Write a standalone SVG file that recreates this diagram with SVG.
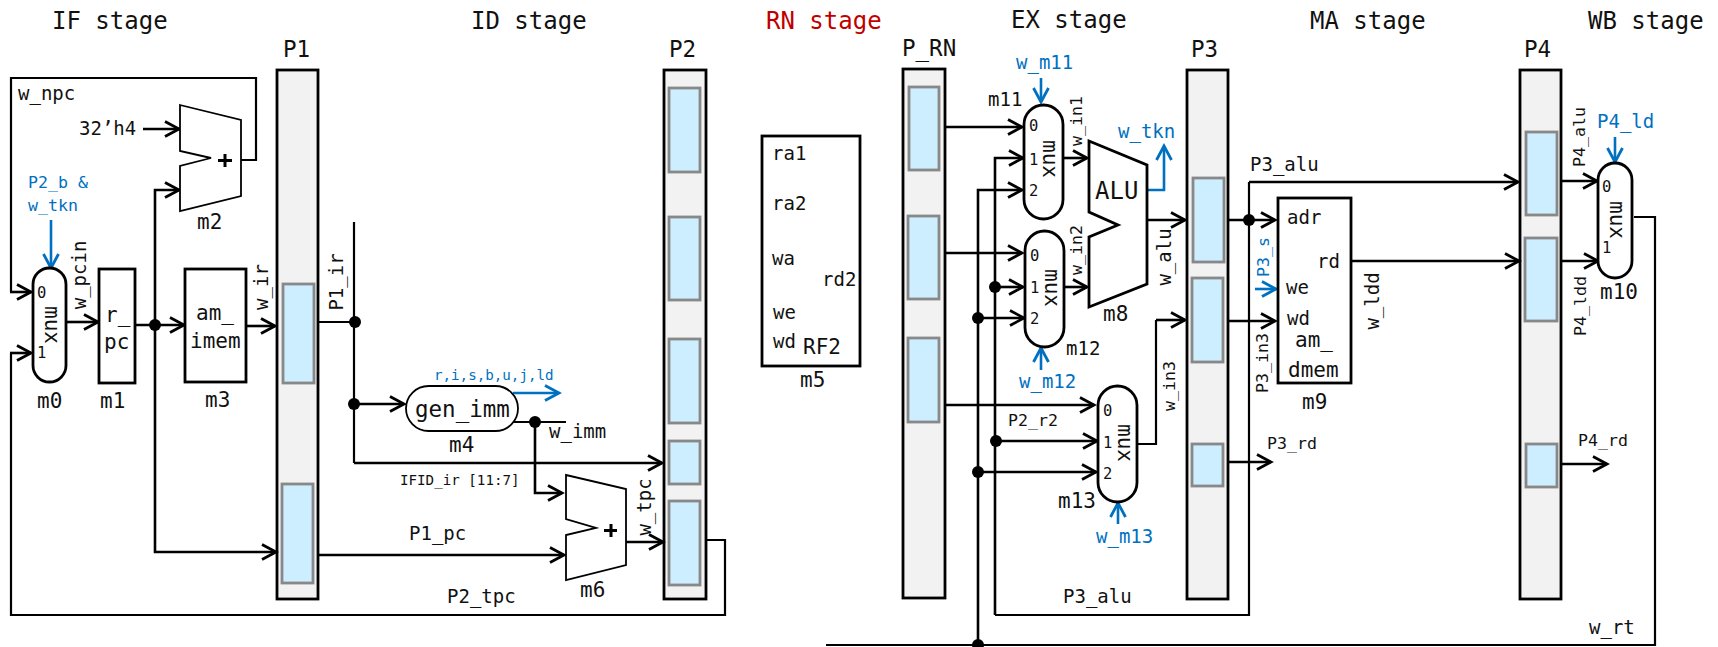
<svg xmlns="http://www.w3.org/2000/svg" width="1718" height="647" viewBox="0 0 1718 647">
<style>
text{font-family:"DejaVu Sans Mono","Liberation Mono",monospace;fill:#111}
.t24{font-size:24px}.t22{font-size:22.500px}.t21{font-size:21px}.t19{font-size:19px}.t17{font-size:16.6px}.t14{font-size:14.2px}.t15{font-size:15.500px}
text.b{fill:#0070c0}text.r{fill:#c00000}
.m{text-anchor:middle}
.bar{fill:#f2f2f2;stroke:#000;stroke-width:2.800}
.reg{fill:#cceeff;stroke:#888;stroke-width:2.800}
.blk{fill:#fff;stroke:#000;stroke-width:2.800}
.thin{fill:#fff;stroke:#000;stroke-width:1.800}
.c{fill:none;stroke:#000;stroke-width:2.200}
.a{fill:none;stroke:#000;stroke-width:2.600;marker-end:url(#ah)}
.ab{fill:none;stroke:#0070c0;stroke-width:2.600;marker-end:url(#ahb)}
.d{fill:#000}
</style>
<defs>
<marker id="ah" markerUnits="userSpaceOnUse" markerWidth="17" markerHeight="18" refX="15" refY="8" orient="auto" overflow="visible"><path d="M1,0.500 L15,8 L1,15.500" fill="none" stroke="#000" stroke-width="2.800"/></marker>
<marker id="ahb" markerUnits="userSpaceOnUse" markerWidth="17" markerHeight="18" refX="15" refY="8" orient="auto" overflow="visible"><path d="M1,0.500 L15,8 L1,15.500" fill="none" stroke="#0070c0" stroke-width="2.800"/></marker>
</defs>

<g id="stages">
<text class="t24" x="52" y="29">IF stage</text>
<text class="t24" x="471" y="29">ID stage</text>
<text class="t24 r" x="766" y="29">RN stage</text>
<text class="t24" x="1011" y="28">EX stage</text>
<text class="t24" x="1310" y="29">MA stage</text>
<text class="t24" x="1588" y="29">WB stage</text>
</g>

<g id="P1"><text class="t22" x="283" y="57">P1</text><rect class="bar" x="277" y="70" width="41" height="529"/><rect class="reg" x="283" y="284" width="31" height="99"/><rect class="reg" x="282" y="484" width="31" height="99"/></g>
<g id="P2"><text class="t22" x="669" y="57">P2</text><rect class="bar" x="664" y="70" width="42" height="529"/><rect class="reg" x="669" y="88" width="31" height="84"/><rect class="reg" x="669" y="217" width="31" height="83"/><rect class="reg" x="669" y="339" width="31" height="84"/><rect class="reg" x="669" y="441" width="31" height="43"/><rect class="reg" x="669" y="501" width="31" height="84"/></g>
<g id="P_RN"><text class="t22" x="902" y="56">P_RN</text><rect class="bar" x="903" y="69" width="42" height="529"/><rect class="reg" x="909" y="87" width="30" height="83"/><rect class="reg" x="908" y="216" width="31" height="83"/><rect class="reg" x="908" y="338" width="31" height="84"/></g>
<g id="P3"><text class="t22" x="1191" y="57">P3</text><rect class="bar" x="1187" y="70" width="41" height="529"/><rect class="reg" x="1193" y="178" width="31" height="84"/><rect class="reg" x="1192" y="278" width="31" height="84"/><rect class="reg" x="1192" y="444" width="31" height="42"/></g>
<g id="P4"><text class="t22" x="1524" y="57">P4</text><rect class="bar" x="1520" y="70" width="41" height="529"/><rect class="reg" x="1526" y="132" width="31" height="83"/><rect class="reg" x="1525" y="238" width="32" height="83"/><rect class="reg" x="1526" y="444" width="31" height="43"/></g>

<g id="connectors">
<path class="c" d="M241,160H256V78H11V292"/>
<path class="a" d="M10,292H31"/>
<path class="a" d="M143,129H179"/>
<path class="a" d="M155,325V190H179"/>
<path class="a" d="M155,325V552H276"/>
<path class="a" d="M66,322H98"/>
<path class="a" d="M135,325H184"/>
<path class="a" d="M246,326H275"/>
<path class="a" d="M10,353H31"/>
<path class="c" d="M11,353V615H725V540H706"/>
<path class="ab" d="M51,220V268"/>
<path class="c" d="M318,322H354"/>
<path class="c" d="M354,222V463"/>
<path class="a" d="M354,404H404"/>
<path class="a" d="M354,463H662"/>
<path class="ab" d="M513,393H559"/>
<path class="c" d="M513,422H566"/>
<path class="a" d="M535,422V493H562"/>
<path class="a" d="M318,555H564"/>
<path class="a" d="M626,542H663"/>
<path class="a" d="M945,127H1022"/>
<path class="a" d="M945,253H1022"/>
<path class="a" d="M945,405H1094"/>
<path class="a" d="M995,615V158H1023"/>
<path class="c" d="M995,615H1249V182"/>
<path class="a" d="M1249,182H1518"/>
<path class="a" d="M995,287H1023"/>
<path class="a" d="M995,441H1097"/>
<path class="a" d="M978,645V190H1022"/>
<path class="a" d="M978,318H1024"/>
<path class="a" d="M978,472H1096"/>
<path class="c" d="M826,645H1655V217H1634"/>
<path class="a" d="M1063,158H1087"/>
<path class="a" d="M1064,287H1087"/>
<path class="a" d="M1147,220H1185"/>
<path class="ab" d="M1147,190H1164V146"/>
<path class="ab" d="M1041,78V102"/>
<path class="ab" d="M1041,370V348"/>
<path class="ab" d="M1118,524V503"/>
<path class="c" d="M1137,444H1156V320"/>
<path class="a" d="M1156,320H1185"/>
<path class="a" d="M1228,220H1275"/>
<path class="a" d="M1228,321H1275"/>
<path class="ab" d="M1255,289H1276"/>
<path class="a" d="M1351,261H1519"/>
<path class="a" d="M1561,181H1597"/>
<path class="a" d="M1561,261H1598"/>
<path class="ab" d="M1615,137V162"/>
<path class="a" d="M1228,462H1271"/>
<path class="a" d="M1561,464H1607"/>
<g id="junctions">
<circle class="d" cx="155" cy="325" r="6"/><circle class="d" cx="355" cy="322" r="6"/><circle class="d" cx="354" cy="404" r="6"/><circle class="d" cx="535" cy="422" r="6"/>
<circle class="d" cx="995" cy="287" r="6"/><circle class="d" cx="996" cy="441" r="6"/><circle class="d" cx="978" cy="318" r="6"/><circle class="d" cx="978" cy="472" r="6"/><circle class="d" cx="978" cy="645" r="6"/><circle class="d" cx="1249" cy="220" r="6"/>
</g>
</g>

<g id="wire-labels">
<text class="t19" x="18" y="100">w_npc</text>
<text class="t19" x="79" y="135">32’h4</text>
<text class="t17 b" x="28" y="188">P2_b &amp;</text>
<text class="t17 b" x="28" y="211">w_tkn</text>
<text class="t19 m" transform="translate(86,275) rotate(-90)">w_pcin</text>
<text class="t19 m" transform="translate(268,287) rotate(-90)">w_ir</text>
<text class="t19 m" transform="translate(343,282) rotate(-90)">P1_ir</text>
<text class="t14 b" x="434" y="380">r,i,s,b,u,j,ld</text>
<text class="t19" x="549" y="438">w_imm</text>
<text class="t14" x="400" y="485">IFID_ir [11:7]</text>
<text class="t19" x="409" y="540">P1_pc</text>
<text class="t19" x="447" y="603">P2_tpc</text>
<text class="t19 m" transform="translate(651,507) rotate(-90)">w_tpc</text>
<text class="t17 m" transform="translate(1082,121) rotate(-90)">w_in1</text>
<text class="t17 m" transform="translate(1082,250) rotate(-90)">w_in2</text>
<text class="t19 m" transform="translate(1171,257) rotate(-90)">w_alu</text>
<text class="t17 m" transform="translate(1175,386) rotate(-90)">w_in3</text>
<text class="t19 b" x="1016" y="69">w_m11</text>
<text class="t19 b" x="1118" y="138">w_tkn</text>
<text class="t19 b" x="1019" y="388">w_m12</text>
<text class="t19 b" x="1096" y="543">w_m13</text>
<text class="t17" x="1008" y="426">P2_r2</text>
<text class="t19" x="1063" y="603">P3_alu</text>
<text class="t19" x="1250" y="171">P3_alu</text>
<text class="t17 b m" transform="translate(1269,257) rotate(-90)">P3_s</text>
<text class="t17 m" transform="translate(1268,363) rotate(-90)">P3_in3</text>
<text class="t19 m" transform="translate(1379,301) rotate(-90)">w_ldd</text>
<text class="t19 b" x="1597" y="128">P4_ld</text>
<text class="t17 m" transform="translate(1585,137) rotate(-90)">P4_alu</text>
<text class="t17 m" transform="translate(1586,306) rotate(-90)">P4_ldd</text>
<text class="t17" x="1267" y="449">P3_rd</text>
<text class="t17" x="1578" y="446">P4_rd</text>
<text class="t19" x="1589" y="634">w_rt</text>
</g>

<g id="m0"><rect class="blk" x="33" y="268" width="33" height="114" rx="16.500"/><text class="t15" x="37" y="298">0</text><text class="t15" x="37" y="358">1</text><text class="t21 m" transform="translate(45,325) rotate(90)">mux</text><text class="t21" x="37" y="408">m0</text></g>
<g id="m1"><rect class="blk" x="99" y="269" width="36" height="114"/><text class="t21" x="105" y="322">r_</text><text class="t21" x="104" y="349">pc</text><text class="t21" x="100" y="408">m1</text></g>
<g id="m2"><path class="thin" d="M180,105L241,120V196L180,211V166L211,158L180,151Z"/><path d="M218,160.500H232M225,154V167" fill="none" stroke="#000" stroke-width="3"/><text class="t21" x="197" y="229">m2</text></g>
<g id="m3"><rect class="blk" x="185" y="269" width="61" height="113"/><text class="t21" x="196" y="320">am_</text><text class="t21" x="190" y="348">imem</text><text class="t21" x="205" y="407">m3</text></g>
<g id="m4"><rect class="thin" x="406" y="386" width="112" height="45" rx="22.500"/><text class="t22" x="415" y="417">gen_imm</text><text class="t21" x="449" y="452">m4</text></g>
<g id="m5"><rect class="blk" x="762" y="136" width="98" height="230"/><text class="t19" x="772" y="160">ra1</text><text class="t19" x="772" y="210">ra2</text><text class="t19" x="772" y="265">wa</text><text class="t19" x="822" y="286">rd2</text><text class="t19" x="773" y="319">we</text><text class="t19" x="773" y="348">wd</text><text class="t21" x="803" y="354">RF2</text><text class="t21" x="800" y="387">m5</text></g>
<g id="m6"><path class="thin" d="M566,475L626,489V565L566,580V535L596,528L566,519Z"/><path d="M604,530.500H617M611,524V537" fill="none" stroke="#000" stroke-width="3"/><text class="t21" x="580" y="597">m6</text></g>
<g id="m8"><path class="blk" d="M1089,141L1147,165V284L1089,307V237L1118,225L1089,212Z"/><text class="t24" x="1095" y="199">ALU</text><text class="t21" x="1103" y="321">m8</text></g>
<g id="m9"><rect class="blk" x="1278" y="198" width="73" height="185"/><text class="t19" x="1287" y="224">adr</text><text class="t19" x="1317" y="268">rd</text><text class="t19" x="1286" y="294">we</text><text class="t19" x="1287" y="325">wd</text><text class="t21" x="1295" y="347">am_</text><text class="t21" x="1288" y="377">dmem</text><text class="t21" x="1302" y="409">m9</text></g>
<g id="m10"><rect class="blk" x="1598" y="163" width="34" height="115" rx="17"/><text class="t15" x="1602" y="192">0</text><text class="t15" x="1602" y="253">1</text><text class="t21 m" transform="translate(1610,220) rotate(90)">mux</text><text class="t21" x="1600" y="299">m10</text></g>
<g id="m11"><rect class="blk" x="1024" y="105" width="39" height="114" rx="19.500"/><text class="t15" x="1029" y="131">0</text><text class="t15" x="1029" y="165">1</text><text class="t15" x="1029" y="196">2</text><text class="t21 m" transform="translate(1043,159) rotate(90)">mux</text><text class="t19" x="988" y="106">m11</text></g>
<g id="m12"><rect class="blk" x="1025" y="231" width="39" height="116" rx="19.500"/><text class="t15" x="1030" y="261">0</text><text class="t15" x="1030" y="293">1</text><text class="t15" x="1030" y="324">2</text><text class="t21 m" transform="translate(1045,288) rotate(90)">mux</text><text class="t19" x="1066" y="355">m12</text></g>
<g id="m13"><rect class="blk" x="1098" y="386" width="39" height="116" rx="19.500"/><text class="t15" x="1103" y="416">0</text><text class="t15" x="1103" y="448">1</text><text class="t15" x="1103" y="479">2</text><text class="t21 m" transform="translate(1118,443) rotate(90)">mux</text><text class="t21" x="1058" y="508">m13</text></g>
</svg>
